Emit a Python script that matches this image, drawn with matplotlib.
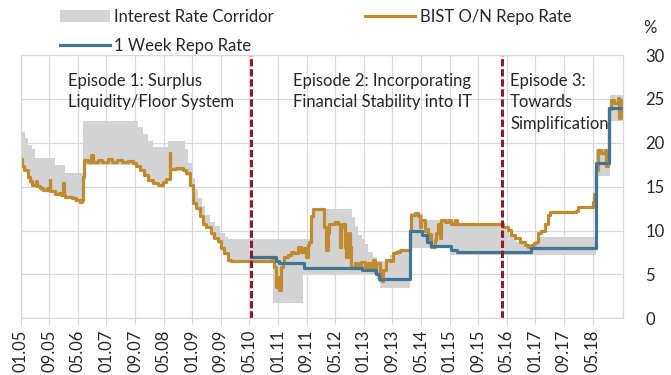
import matplotlib.pyplot as plt
import numpy as np

# all x values are months counted from January 2005
END = 168.5

# interest rate corridor: O/N borrowing (floor) and lending (ceiling) rates
floor_months = [0, 1.2, 2.1, 2.6, 3.5, 5.4, 9.6, 12.4, 15.0, 17.4,
                17.7, 32.3, 33.3, 34.6, 35.6, 37.0, 39.5, 40.7, 41.9, 46.3,
                47.3, 48.2, 49.1, 50.1, 51.0, 51.9, 53.2, 54.2, 55.2, 56.1,
                57.0, 58.1, 70.5, 79.0, 99.6, 100.5, 109.0, 120.5, 161.0, 164.8]
floor_rate = [17.25, 16.75, 15.75, 15.25, 15.0, 14.5, 14.0, 13.6, 13.25, 15.75,
              17.5, 17.25, 16.75, 16.25, 15.5, 15.25, 15.5, 15.75, 16.75, 16.25,
              15.0, 13.0, 12.5, 11.5, 10.75, 10.25, 9.5, 9.0, 8.5, 7.75,
              7.25, 6.5, 1.75, 5.0, 4.5, 3.5, 8.0, 7.25, 16.25, 22.5]

ceiling_months = [0, 1.2, 2.1, 3.1, 4.0, 9.6, 12.4, 17.5, 32.9, 34.3,
                  35.7, 37.1, 41.3, 45.9, 46.9, 47.8, 48.8, 49.7, 50.6, 51.6,
                  53.0, 54.3, 55.7, 57.1, 58.0, 81.5, 92.6, 93.5, 94.5, 95.4,
                  96.3, 97.2, 98.6, 99.6, 103.3, 105.2, 109.0, 112.5, 121.5, 134.7,
                  135.7, 136.7, 137.7, 138.7, 139.7, 140.7, 142.8, 144.5, 161.0, 164.8]
ceiling_rate = [21.25, 20.5, 19.75, 19.25, 18.25, 17.5, 16.5, 22.5, 21.75, 21.0,
                20.25, 19.5, 20.25, 19.25, 17.75, 16.0, 14.75, 13.75, 12.75, 11.75,
                11.0, 10.5, 9.75, 9.25, 9.0, 12.5, 11.5, 10.5, 9.5, 9.0,
                8.5, 7.5, 7.0, 6.5, 7.25, 7.75, 12.0, 11.25, 10.75, 10.5,
                10.0, 9.5, 9.0, 8.75, 8.5, 8.25, 8.5, 9.25, 19.25, 25.5]

# one week repo (policy) rate
week_months = [64.5, 71.3, 72.2, 79.3, 95.4, 99.3, 100.3, 109.0, 112.3, 113.6,
               114.8, 120.5, 122.0, 142.8, 161.0, 164.6]
week_rate = [7.0, 6.5, 6.25, 5.75, 5.5, 5.0, 4.5, 10.0, 9.5, 8.75,
             8.25, 7.75, 7.5, 8.0, 17.75, 24.0]

# BIST overnight repo rate
on_months = [0.0, 0.3, 1.0, 2.0, 2.6, 3.3, 4.4, 4.7, 5.4, 6.3,
             7.4, 7.8, 8.1, 8.3, 9.5, 10.6, 11.2, 11.8, 12.0, 12.4,
             14.3, 15.6, 16.5, 17.1, 17.4, 17.7, 18.8, 19.8, 20.1, 21.5,
             22.8, 24.3, 25.5, 27.0, 28.4, 30.0, 31.4, 32.3, 33.3, 34.6,
             35.6, 37.0, 38.4, 39.8, 40.7, 41.7, 41.9, 43.5, 45.3, 46.3,
             47.3, 48.2, 49.1, 50.1, 51.0, 51.9, 53.2, 54.2, 55.2, 56.1,
             57.0, 58.1, 58.8, 70.4, 70.9, 71.4, 71.9, 72.3, 72.8, 73.3,
             73.8, 74.8, 75.7, 76.6, 77.5, 78.4, 79.3, 79.9, 80.3, 80.8,
             81.3, 81.8, 84.5, 85.0, 85.5, 85.9, 86.4, 87.8, 88.7, 89.2,
             89.6, 90.1, 90.6, 91.1, 91.5, 92.0, 92.5, 93.4, 94.3, 95.3,
             96.2, 97.1, 98.1, 98.6, 99.0, 99.5, 100.4, 101.0, 101.4, 102.3,
             103.3, 104.1, 105.1, 106.0, 108.8, 109.3, 110.2, 111.1, 111.6, 112.1,
             113.0, 113.5, 113.9, 114.4, 114.9, 115.8, 116.3, 116.7, 117.2, 117.6,
             118.6, 119.5, 120.5, 121.4, 122.0, 134.9, 136.3, 137.2, 138.2, 139.6,
             141.0, 141.9, 142.8, 143.6, 144.2, 144.7, 145.6, 146.6, 147.5, 148.0,
             155.5, 155.9, 160.1, 160.5, 161.0, 161.5, 162.4, 163.4, 163.8, 164.3,
             164.7, 165.2, 166.1, 167.0, 167.5, 168.0, 168.4]
on_rate = [18.2, 17.4, 16.9, 16.1, 15.6, 15.2, 15.6, 15.1, 14.9, 14.6,
           14.8, 14.6, 15.8, 14.5, 14.2, 14.3, 14.1, 15.4, 14.0, 13.85,
           13.7, 13.5, 13.3, 13.5, 16.1, 18.0, 17.8, 18.6, 17.8, 18.0,
           17.8, 18.1, 17.8, 18.0, 17.8, 17.9, 17.7, 17.4, 16.9, 16.3,
           15.75, 15.45, 15.2, 15.55, 15.9, 18.8, 17.0, 17.1, 16.9, 16.5,
           15.2, 13.1, 12.6, 11.6, 10.8, 10.4, 9.7, 9.1, 8.8, 8.0,
           7.4, 6.6, 6.5, 6.6, 5.9, 3.6, 4.7, 3.2, 5.9, 6.3,
           7.0, 7.2, 7.6, 7.4, 8.15, 7.6, 8.0, 7.0, 8.35, 8.7,
           11.6, 12.5, 12.4, 10.4, 7.8, 9.7, 10.8, 11.0, 10.8, 8.15,
           10.4, 10.8, 8.15, 7.0, 9.7, 8.15, 5.9, 6.26, 5.7, 6.45,
           5.9, 6.26, 5.5, 6.6, 5.3, 6.3, 4.4, 4.2, 5.5, 6.6,
           6.5, 7.4, 7.6, 7.8, 10.0, 11.8, 12.0, 11.6, 10.4, 11.2,
           10.0, 10.2, 8.7, 9.6, 8.15, 8.9, 9.7, 10.8, 9.1, 11.2,
           11.0, 11.2, 10.8, 11.2, 10.8, 10.4, 10.05, 9.5, 9.1, 8.7,
           8.35, 8.15, 8.35, 8.6, 8.7, 9.7, 9.9, 10.8, 11.8, 12.15,
           12.2, 12.7, 13.3, 14.2, 16.9, 19.2, 18.8, 19.2, 17.3, 18.8,
           23.9, 24.9, 24.5, 25.1, 22.8, 24.9, 23.3]

# start of each policy episode
episode_starts = [64.5, 134.7]
episode_labels = ["Episode 1: Surplus\nLiquidity/Floor System",
                  "Episode 2: Incorporating\nFinancial Stability into IT",
                  "Episode 3:\nTowards\nSimplification"]
episode_text_x = [13.2, 76.2, 136.9]

GRAY = "#d3d3d3"
GOLD = "#c08a30"
BLUE = "#3f7696"
RED = "#8c1c2c"
GRID = "#d9d9d9"
TEXT = "#262626"

plt.rcParams["font.family"] = ["Lato", "DejaVu Sans"]
plt.rcParams["font.size"] = 12


def held(months, rates, grid):
    idx = np.searchsorted(months, grid, side="right") - 1
    return np.asarray(rates)[idx]


def extend(months, rates):
    return np.append(months, END), np.append(rates, rates[-1])


fig = plt.figure(figsize=(6.71, 3.75), dpi=100)
ax = fig.add_axes([0.0308, 0.1512, 0.8976, 0.7021])

grid = np.append(np.union1d(floor_months, ceiling_months), END)
ax.fill_between(grid, held(floor_months, floor_rate, grid),
                held(ceiling_months, ceiling_rate, grid),
                step="post", color=GRAY, lw=0, label="Interest Rate Corridor")

x, y = extend(on_months, on_rate)
ax.step(x, y, where="post", color=GOLD, lw=2.3, label="BIST O/N Repo Rate")
x, y = extend(week_months, week_rate)
ax.step(x, y, where="post", color=BLUE, lw=2.3, label="1 Week Repo Rate")

for start in episode_starts:
    ax.axvline(start, color=RED, lw=2.2, dashes=(2.4, 0.9))

for label, tx in zip(episode_labels, episode_text_x):
    ax.text(tx, 28.0, label, ha="left", va="top", color=TEXT,
            linespacing=1.45, fontsize=12)

ax.set_xlim(0, END)
ax.set_ylim(0, 30)
tick_months = np.arange(0, 161, 8)
ax.set_xticks(tick_months)
ax.set_xticklabels([f"{m % 12 + 1:02d}.{(5 + m // 12) % 100:02d}" for m in tick_months],
                   rotation=90, color=TEXT)
ax.set_yticks(range(0, 31, 5))
ax.yaxis.tick_right()
ax.tick_params(axis="y", length=0, pad=16, labelcolor=TEXT)
ax.tick_params(axis="x", length=5, color=GRID, pad=3)
ax.grid(True, color=GRID, lw=0.9)
ax.set_axisbelow(True)
for spine in ax.spines.values():
    spine.set_color(GRID)
    spine.set_linewidth(0.9)

fig.text(650 / 671, 1 - 28 / 375, "%", ha="center", va="center", color=TEXT)

handles, labels = ax.get_legend_handles_labels()
order = [0, 2, 1]
ax.legend([handles[i] for i in order], [labels[i] for i in order],
          ncol=2, frameon=False, loc="upper left",
          bbox_to_anchor=(60 / 671, 1 - 9 / 375), bbox_transform=fig.transFigure,
          borderpad=0, borderaxespad=0, handlelength=3.0, handletextpad=0.25,
          columnspacing=5.5, labelspacing=0.75, labelcolor=TEXT)

fig.savefig("out.png", dpi=100)
